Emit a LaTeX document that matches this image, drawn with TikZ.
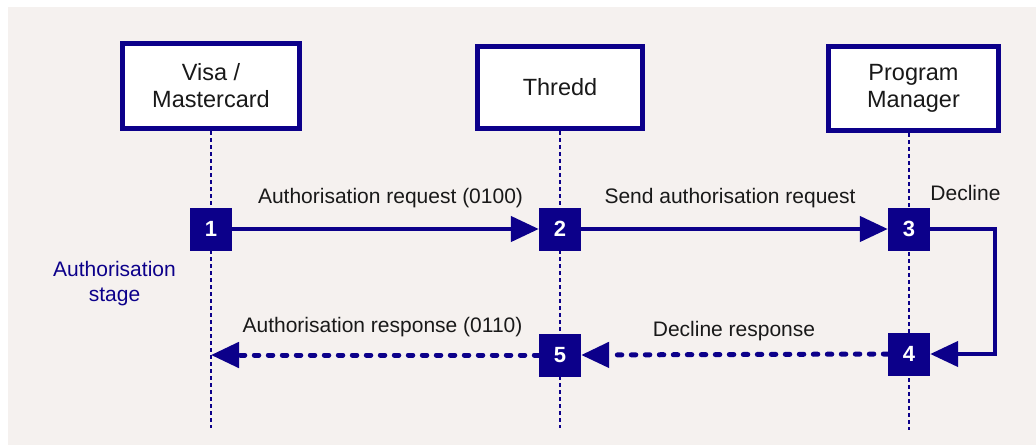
\documentclass[tikz,border=0pt]{standalone}
\usepackage{fontspec}
\setmainfont{Liberation Sans}
\usetikzlibrary{arrows.meta}
\definecolor{navy}{RGB}{12,0,138}
\definecolor{bgc}{RGB}{245,241,239}
\definecolor{txt}{RGB}{25,25,25}
\begin{document}
\begin{tikzpicture}[x=1pt,y=-1pt,
  actor/.style={draw=navy, line width=5pt, fill=white, align=center, text=txt,
    font=\fontsize{23.5}{27}\selectfont, inner sep=0pt},
  num/.style={fill=navy, text=white, font=\fontsize{22}{24}\selectfont\bfseries,
    minimum width=42pt, minimum height=43pt, inner sep=0pt},
  life/.style={navy, line width=2.2pt, dash pattern=on 4pt off 3pt},
  msg/.style={navy, line width=4.5pt, line join=miter, -{Triangle[length=28pt,width=25pt]}},
  rmsg/.style={msg, line width=5pt, line cap=round, dash pattern=on 4.5pt off 9.5pt},
  lbl/.style={font=\fontsize{21}{24}\selectfont, text=txt, anchor=base, inner sep=0pt}
]
\useasboundingbox (0,0) rectangle (1036,445);
\fill[white] (0,0) rectangle (1036,445);
\fill[bgc] (8,7) rectangle (1036,445);

\node[actor, minimum width=177pt, minimum height=85pt] (A) at (211,86) {Visa /\\Mastercard};
\node[actor, minimum width=165pt, minimum height=82pt] (B) at (560,87.5) {Thredd};
\node[actor, minimum width=170pt, minimum height=84pt] (C) at (913.5,88.5) {Program\\Manager};

\coordinate (Aend) at (211,428);
\coordinate (Bend) at (560,428);
\coordinate (Cend) at (909,430);
\draw[life] (A.south -| Aend) -- (Aend);
\draw[life] (B.south -| Bend) -- (Bend);
\draw[life] (C.south -| Cend) -- (Cend);

\node[num] (n1) at (211,229) {1};
\node[num] (n2) at (560,229) {2};
\node[num] (n3) at (909,229) {3};
\node[num] (n4) at (909,354) {4};
\node[num] (n5) at (560,355) {5};

\coordinate (r1) at (995,229);
\coordinate (r2) at (995,354);
\draw[msg] (n1.east) -- (n2.west);
\draw[msg] (n2.east) -- (n3.west);
\draw[msg] (n3.east) -- (r1) -- (r2) -- (n4.east);
\draw[rmsg] (n4.west) -- (n5.east);
\draw[rmsg] (n5.west) -- (n5.west -| Aend);

\node[lbl] (l1) at (390.5,203) {Authorisation request (0100)};
\node[lbl] (l2) at (730,203) {Send authorisation request};
\node[lbl] (l3) at (965.5,200) {Decline};
\node[lbl] (l4) at (382.5,332.7) {Authorisation response (0110)};
\node[lbl] (l5) at (734,336) {Decline response};
\node[font=\fontsize{21}{25}\selectfont, text=navy, align=center, inner sep=0pt] (st) at (114.5,284) {Authorisation\\stage};
\end{tikzpicture}
\end{document}
